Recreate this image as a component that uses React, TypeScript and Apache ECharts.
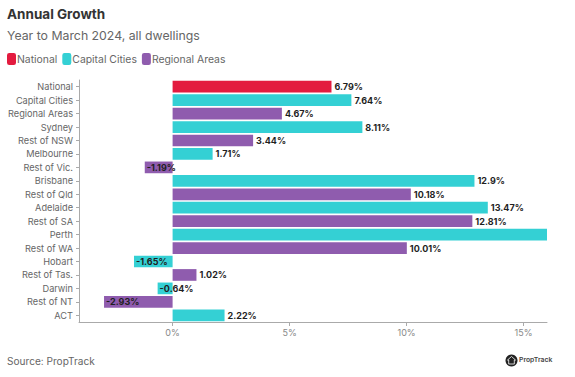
import React, { useEffect, useRef } from "react";
import * as echarts from "echarts";

const categories = ["National","Capital Cities","Regional Areas","Sydney","Rest of NSW","Melbourne","Rest of Vic.","Brisbane","Rest of Qld","Adelaide","Rest of SA","Perth","Rest of WA","Hobart","Rest of Tas.","Darwin","Rest of NT","ACT"];
const nationalValues = [6.79,null,null,null,null,null,null,null,null,null,null,null,null,null,null,null,null,null];
const capitalValues = [null,7.64,null,8.11,null,1.71,null,12.9,null,13.47,null,16,null,-1.65,null,-0.64,null,2.22];
const regionalValues = [null,null,4.67,null,3.44,null,-1.19,null,10.18,null,12.81,null,10.01,null,1.02,null,-2.93,null];
const hiddenLabelCategories = ["Perth"];
const xTicks = [0,5,10,15];
const FONT = "Inter";

function series(name: string, values: (number|null)[], color: string) {
  return {
    name, type: "bar", stack: "all", barCategoryGap: "13%",
    itemStyle: { color },
    data: values.map((v, i) => {
      if (v === null) return null;
      const hide = hiddenLabelCategories.includes(categories[i]);
      return {
        value: v,
        label: {
          show: !hide,
          position: v < 0 ? "insideLeft" : "right",
          distance: v < 0 ? 2 : 3,
        },
      };
    }),
    label: {
      show: true, fontFamily: FONT, fontSize: 9, fontWeight: 700, color: "#1f1f1f",
      formatter: (p: any) => `${p.value}%`,
    },
  };
}

export default function App() {
  const ref = useRef<HTMLDivElement>(null);
  useEffect(() => {
    document.body.style.margin = "0";
    const chart = echarts.init(ref.current!, null, { renderer: "svg" });
    chart.setOption({
      animation: false,
      backgroundColor: "#fff",
      graphic: [
        { type: "text", left: 7, top: 7, style: { text: "Annual Growth", fontFamily: FONT, fontSize: 13.5, fontWeight: 700, fill: "#333" } },
        { type: "text", left: 7, top: 29, style: { text: "Year to March 2024, all dwellings", fontFamily: FONT, fontSize: 12.3, fill: "#666" } },
        { type: "text", left: 7, top: 356, style: { text: "Source: PropTrack", fontFamily: FONT, fontSize: 10.1, fill: "#666" } },
        { type: "circle", shape: { cx: 511.5, cy: 360.5, r: 6 }, style: { fill: "#222" } },
        { type: "polygon", shape: { points: [[511.5,356.5],[515.5,360],[514.3,360],[514.3,364],[508.7,364],[508.7,360],[507.5,360]] }, style: { fill: "#222", stroke: "#fff", lineWidth: 0.8 } },
        { type: "text", left: 519, top: 356, style: { text: "PropTrack", fontFamily: FONT, fontSize: 6.8, fontWeight: 600, fill: "#444" } },
      ],
      legend: {
        left: 7, top: 53, itemWidth: 9, itemHeight: 12, itemGap: 5, icon: "roundRect", padding: 0,
        textStyle: { fontFamily: FONT, fontSize: 10.4, color: "#666", padding: [0, 0, 0, -4] },
        data: ["National", "Capital Cities", "Regional Areas"],
      },
      grid: { left: 79, right: 28, top: 80, height: 242, containLabel: false },
      xAxis: {
        type: "value", min: -4, max: 16,
        axisLine: { show: true, onZero: false, lineStyle: { color: "#aaa" } },
        axisTick: { show: true, customValues: xTicks, length: 4, lineStyle: { color: "#aaa" } },
        axisLabel: { customValues: xTicks, formatter: (v: number) => `${v}%`, fontFamily: FONT, fontSize: 9, color: "#888", margin: 6 },
        splitLine: { show: false },
      },
      yAxis: {
        type: "category", inverse: true, data: categories,
        axisLine: { show: true, onZero: false, lineStyle: { color: "#aaa" } },
        axisTick: { show: true, length: 3, alignWithLabel: true, lineStyle: { color: "#aaa" } },
        axisLabel: { fontFamily: FONT, fontSize: 9.2, color: "#666", margin: 6, interval: 0 },
      },
      series: [
        series("National", nationalValues, "#e31b3f"),
        series("Capital Cities", capitalValues, "#34d0d4"),
        series("Regional Areas", regionalValues, "#8f5cae"),
      ],
    });
    return () => chart.dispose();
  }, []);
  return <div ref={ref} style={{ width: 575, height: 377 }} />;
}
